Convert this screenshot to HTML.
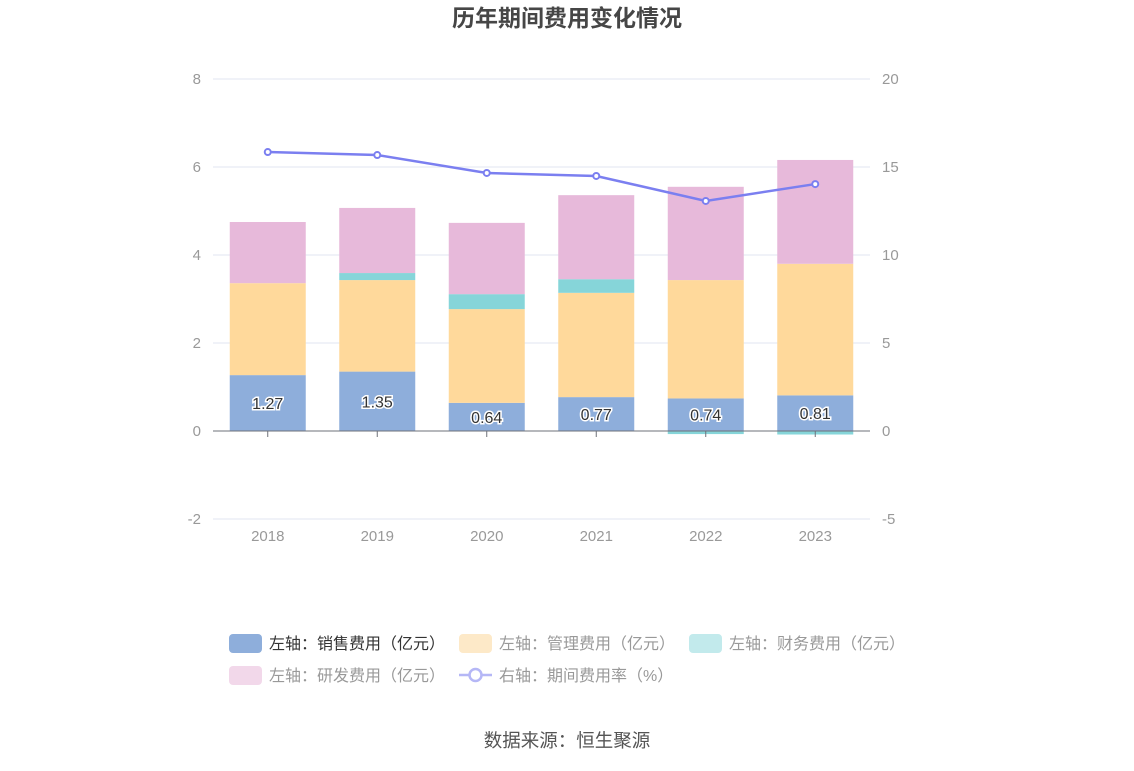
<!DOCTYPE html>
<html><head><meta charset="utf-8"><style>
body{margin:0;background:#fff;font-family:"Liberation Sans","Noto Sans CJK SC",sans-serif;}
svg text{font-family:"Liberation Sans","Noto Sans CJK SC",sans-serif;}
</style></head><body>
<svg id="c" width="1134" height="766" xmlns="http://www.w3.org/2000/svg">
<text x="567" y="26" text-anchor="middle" font-size="23" font-weight="bold" fill="#464646">历年期间费用变化情况</text>
<text x="567" y="747" text-anchor="middle" font-size="18.5" fill="#555">数据来源：恒生聚源</text>
</svg>
<script>
const years=['2018','2019','2020','2021','2022','2023'];
const sales=[1.27,1.35,0.64,0.77,0.74,0.81];
const mgmt=[2.09,2.08,2.13,2.37,2.69,2.99];
const finance=[0.0,0.16,0.34,0.31,-0.07,-0.08];
const research=[1.39,1.48,1.62,1.91,2.12,2.36];
const rate=[15.85,15.68,14.66,14.49,13.07,14.03];
const leftTicks=[-2,0,2,4,6,8];
const rightTicks=[-5,0,5,10,15,20];

const svg=document.getElementById('c');
const NS='http://www.w3.org/2000/svg';
const x0=213,x1=870,yZero=431;
const yL=v=>yZero-v*44;
const yR=v=>yZero-v*17.6;
const band=(x1-x0)/years.length;
const xc=i=>x0+band*(i+0.5);
const bw=76;
function mk(t,a){const e=document.createElementNS(NS,t);for(const k in a)e.setAttribute(k,a[k]);svg.appendChild(e);return e;}
leftTicks.forEach((v,i)=>{
  const g=mk('line',{x1:x0,x2:x1,y1:yL(v),y2:yL(v),stroke:'#e0e6f1','stroke-width':1});
  
  
  const t=mk('text',{x:201,y:yL(v)+5,'text-anchor':'end','font-size':15,fill:'#999'});t.textContent=v;
  
  
  const r=mk('text',{x:882,y:yR(rightTicks[i])+5,'text-anchor':'start','font-size':15,fill:'#999'});r.textContent=rightTicks[i];
  
  
});
const series=[[sales,'#8eaedb','sales'],[mgmt,'#ffd99b','mgmt'],[finance,'#86d5d9','finance'],[research,'#e7b9da','research']];
years.forEach((y,i)=>{
  let pos=0,neg=0;
  series.forEach(([arr,col,nm])=>{
    const v=arr[i];let top,bot;
    if(v>=0){bot=pos;pos+=v;top=pos;}else{top=neg;neg+=v;bot=neg;}
    const r=mk('rect',{x:xc(i)-bw/2,y:yL(top),width:bw,height:Math.max(0,yL(bot)-yL(top)),fill:col});
    
    
  });
  const t=mk('text',{x:xc(i),y:yL(sales[i]/2)+6,'text-anchor':'middle','font-size':16,fill:'#333',stroke:'#fff','stroke-width':3,'paint-order':'stroke'});
  t.textContent=sales[i].toFixed(2);
  
  
  const tk=mk('line',{x1:xc(i),x2:xc(i),y1:yZero,y2:yZero+6,stroke:'#6e7079'});
  
  
  const xl=mk('text',{x:xc(i),y:541,'text-anchor':'middle','font-size':15,fill:'#999'});xl.textContent=y;
  
  
});
const ax=mk('line',{x1:x0,x2:x1,y1:yZero,y2:yZero,stroke:'#6e7079'});


const pl=mk('polyline',{points:rate.map((v,i)=>xc(i)+','+yR(v)).join(' '),fill:'none',stroke:'#7b7ff0','stroke-width':2.5});


rate.forEach((v,i)=>{
  const c=mk('circle',{cx:xc(i),cy:yR(v),r:3,fill:'#fff',stroke:'#7b7ff0','stroke-width':2});
  
  
});
const leg=[[229,643,'#8eaedb','左轴：销售费用（亿元）','#333','rect'],[459,643,'#fde9c8','左轴：管理费用（亿元）','#999','rect'],[689,643,'#c2eaec','左轴：财务费用（亿元）','#999','rect'],[229,675,'#f2d8ea','左轴：研发费用（亿元）','#999','rect'],[459,675,'#b5b7f6','右轴：期间费用率（%）','#999','line']];
leg.forEach(([x,y,col,txt,tc,kind])=>{
  if(kind==='rect'){const r=mk('rect',{x:x,y:y-9,width:33,height:19,rx:4,fill:col});
    
    }
  else{mk('line',{x1:x,x2:x+33,y1:y,y2:y,stroke:col,'stroke-width':2.5});
    const c=mk('circle',{cx:x+16.5,cy:y,r:6,fill:'#fff',stroke:col,'stroke-width':2.5});
    
    }
  const t=mk('text',{x:x+40,y:y+6,'font-size':16,fill:tc});t.textContent=txt;
  
  
});
</script>
</body></html>
